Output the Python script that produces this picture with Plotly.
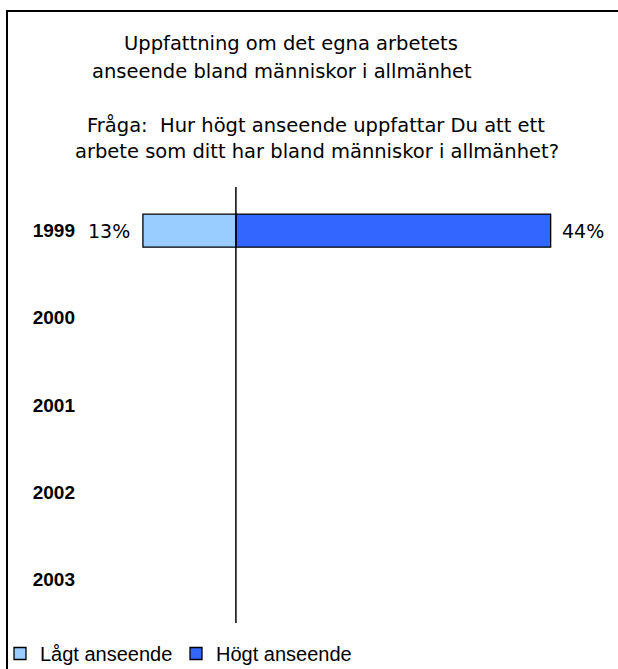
import plotly.graph_objects as go

years = ["1999", "2000", "2001", "2002", "2003"]
lagt = [13, None, None, None, None]
hogt = [44, None, None, None, None]
series_names = ["Lågt anseende", "Högt anseende"]
title_lines = [
    "Uppfattning om det egna arbetets",
    "anseende bland människor i allmänhet",
    "Fråga:  Hur högt anseende uppfattar Du att ett",
    "arbete som ditt har bland människor i allmänhet?",
]

W, H = 618, 669
L, R, T, B = 100, 28, 187, 46
pw, ph = W - L - R, H - T - B

def px(x):
    return (x - L) / pw

def py(y):
    return (H - B - y) / ph

fig = go.Figure()
fig.add_trace(go.Bar(
    y=years, x=[-v if v is not None else None for v in lagt], orientation="h",
    name=series_names[0], marker=dict(color="#99CCFF", line=dict(color="black", width=1.3)),
    width=0.38, hoverinfo="skip",
))
fig.add_trace(go.Bar(
    y=years, x=hogt, orientation="h",
    name=series_names[1], marker=dict(color="#3366FF", line=dict(color="black", width=1.3)),
    width=0.38, hoverinfo="skip",
))

pct_font = dict(family="DejaVu Sans", size=19, color="black")
annos = []
for i, (lo, hi) in enumerate(zip(lagt, hogt)):
    if lo is not None:
        annos.append(dict(x=-lo, y=i, xref="x", yref="y", text=f"{lo}%", showarrow=False,
                          xanchor="right", yanchor="middle", xshift=-11, font=pct_font))
    if hi is not None:
        annos.append(dict(x=hi, y=i, xref="x", yref="y", text=f"{hi}%", showarrow=False,
                          xanchor="left", yanchor="middle", xshift=9, font=pct_font))

title_pos = [(290.5, 44), (282, 71), (315.5, 125), (316.5, 151)]
for txt, (cx, cy) in zip(title_lines, title_pos):
    annos.append(dict(x=px(cx), y=py(cy), xref="paper", yref="paper", text=txt, showarrow=False,
                      xanchor="center", yanchor="middle",
                      font=dict(family="DejaVu Sans", size=19.5, color="black")))

shapes = [
    dict(type="line", xref="paper", yref="paper", x0=px(7), x1=px(7), y0=py(11), y1=py(700),
         line=dict(color="black", width=2)),
    dict(type="line", xref="paper", yref="paper", x0=px(6), x1=px(640), y0=py(11), y1=py(11),
         line=dict(color="black", width=2)),
    dict(type="line", xref="x", yref="paper", x0=0, x1=0, y0=0, y1=1,
         line=dict(color="black", width=1.5)),
]

fig.update_layout(
    width=W, height=H,
    margin=dict(l=L, r=R, t=T, b=B, autoexpand=False),
    paper_bgcolor="white", plot_bgcolor="white",
    barmode="relative",
    showlegend=True,
    legend=dict(orientation="h", x=px(0), y=py(634), xanchor="left", yanchor="top",
                font=dict(family="Liberation Sans, Arial", size=20, color="black"),
                itemwidth=30, entrywidth=131, tracegroupgap=0, bgcolor="rgba(0,0,0,0)"),
    xaxis=dict(range=[-19, 49.5], visible=False, fixedrange=True),
    yaxis=dict(type="category", categoryorder="array", categoryarray=years,
               range=[4.5, -0.5], autorange=False,
               showgrid=False, zeroline=False, showline=False, fixedrange=True,
               ticks="", ticklabelstandoff=24,
               tickfont=dict(family="Liberation Sans, Arial", size=19, color="black", weight="bold")),
    annotations=annos,
    shapes=shapes,
)

fig.write_html("out.html", post_script="document.body.style.margin='0';",
               config={"displayModeBar": False})
